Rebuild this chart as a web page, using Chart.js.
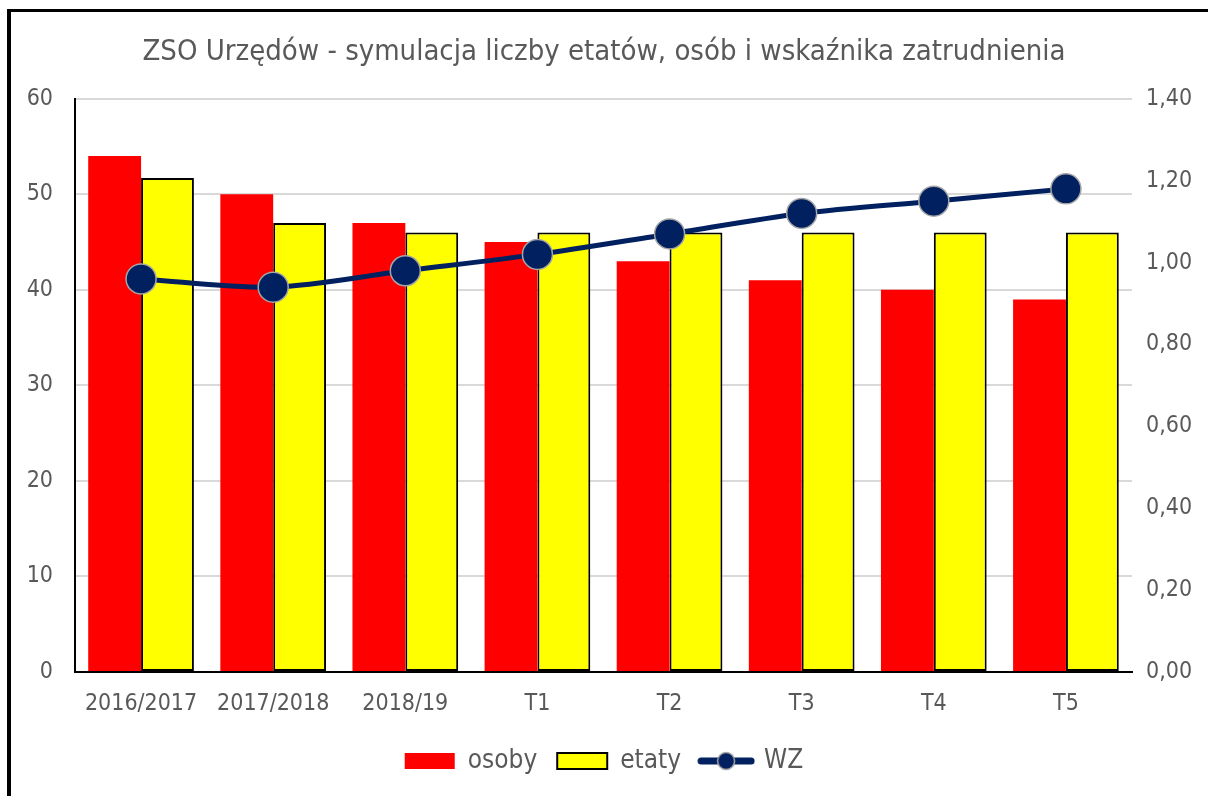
<!DOCTYPE html>
<html>
<head>
<meta charset="utf-8">
<script src="https://cdn.jsdelivr.net/npm/chart.js@4/dist/chart.umd.min.js"></script>
<style>
  body { margin: 0; background: #fff; }
  #wrap { position: relative; width: 1208px; height: 796px; overflow: hidden; }
  #frame { position: absolute; left: 7px; top: 9px; width: 1400px; height: 900px;
           border-left: 4px solid #000; border-top: 3px solid #000; pointer-events: none; }
  canvas { position: absolute; left: 0; top: 0; }
</style>
</head>
<body>
<div id="wrap">
  <canvas id="chart" width="1208" height="796"></canvas>
  <div id="frame"></div>
</div>
<script>
// data
const labels = ['2016/2017', '2017/2018', '2018/19', 'T1', 'T2', 'T3', 'T4', 'T5'];
const osoby = [54, 50, 47, 45, 43, 41, 40, 39];
const etaty = [51.7, 47, 46, 46, 46, 46, 46, 46];
const wz = [0.96, 0.94, 0.98, 1.02, 1.07, 1.12, 1.15, 1.18];

const FONT = "'DejaVu Sans Condensed', 'DejaVu Sans', sans-serif";
const GREY = '#595959';
const NAVY = '#002060';

// legend symbol for the line series
const wzIcon = document.createElement('canvas');
wzIcon.width = 58;
wzIcon.height = 22;
(() => {
  const c = wzIcon.getContext('2d');
  c.strokeStyle = NAVY;
  c.lineWidth = 7;
  c.lineCap = 'round';
  c.beginPath();
  c.moveTo(4, 11);
  c.lineTo(54, 11);
  c.stroke();
  c.beginPath();
  c.arc(29, 11, 8.5, 0, Math.PI * 2);
  c.fillStyle = NAVY;
  c.fill();
  c.lineWidth = 1.5;
  c.strokeStyle = '#a6a6a6';
  c.stroke();
})();

const fixWidth = w => scale => { scale.width = w; };

const ctx = document.getElementById('chart');
new Chart(ctx, {
  data: {
    labels: labels,
    datasets: [
      {
        type: 'bar',
        label: 'osoby',
        data: osoby,
        backgroundColor: '#ff0000',
        borderWidth: 0,
        yAxisID: 'y',
        order: 1
      },
      {
        type: 'bar',
        label: 'etaty',
        data: etaty,
        backgroundColor: '#ffff00',
        borderColor: '#000',
        borderWidth: 2,
        borderSkipped: false,
        yAxisID: 'y',
        order: 1
      },
      {
        type: 'line',
        label: 'WZ',
        data: wz,
        borderColor: NAVY,
        borderWidth: 5,
        tension: 0.3,
        pointRadius: 15,
        pointBackgroundColor: NAVY,
        pointBorderColor: '#a6a6a6',
        pointBorderWidth: 1.5,
        yAxisID: 'y1',
        order: 0
      }
    ]
  },
  options: {
    responsive: false,
    animation: false,
    layout: {padding: {left: 0, right: 0, top: 0, bottom: 12}},
    datasets: {
      bar: {categoryPercentage: 0.8, barPercentage: 1.0}
    },
    scales: {
      x: {
        grid: {display: false, drawTicks: false},
        border: {display: true, color: '#000', width: 2},
        ticks: {color: GREY, font: {family: FONT, size: 23}, padding: 18},
        afterFit: scale => { scale.height = 56; }
      },
      y: {
        position: 'left',
        min: 0,
        max: 60,
        ticks: {stepSize: 10, color: GREY, font: {family: FONT, size: 23}, padding: 22},
        grid: {color: '#d9d9d9', lineWidth: 2, drawTicks: false},
        border: {display: true, color: '#000', width: 2},
        afterFit: fixWidth(75)
      },
      y1: {
        position: 'right',
        min: 0,
        max: 1.4,
        ticks: {
          stepSize: 0.2,
          color: GREY,
          font: {family: FONT, size: 23},
          padding: 14,
          callback: v => v.toFixed(2).replace('.', ',')
        },
        grid: {display: false, drawTicks: false},
        border: {display: false},
        afterFit: fixWidth(76)
      }
    },
    plugins: {
      title: {
        display: true,
        text: 'ZSO Urzędów - symulacja liczby etatów, osób i wskaźnika zatrudnienia',
        color: GREY,
        font: {family: FONT, size: 29, weight: 'normal'},
        padding: {top: 35, bottom: 29}
      },
      legend: {
        position: 'bottom',
        labels: {
          color: GREY,
          font: {family: FONT, size: 26},
          usePointStyle: true,
          pointStyleWidth: 50,
          boxHeight: 16,
          padding: 20,
          generateLabels: chart => chart.data.datasets.map((ds, i) => ({
            text: ds.label,
            datasetIndex: i,
            fontColor: GREY,
            fillStyle: ds.type === 'line' ? NAVY : ds.backgroundColor,
            strokeStyle: ds.type === 'line' ? NAVY : (ds.borderColor || ds.backgroundColor),
            lineWidth: ds.type === 'line' ? 0 : ds.borderWidth,
            pointStyle: ds.type === 'line' ? wzIcon : 'rect',
            hidden: false
          }))
        }
      },
      tooltip: {enabled: false}
    }
  }
});
</script>
</body>
</html>
